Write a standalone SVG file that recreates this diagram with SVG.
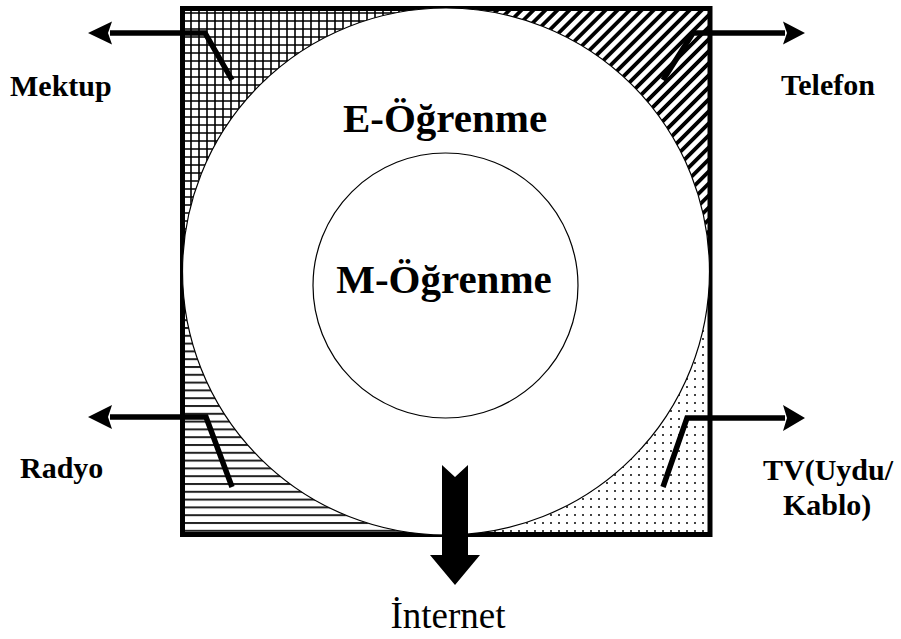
<svg xmlns="http://www.w3.org/2000/svg" width="901" height="639" viewBox="0 0 901 639">
  <style>
    .lbl { font-family: "Liberation Serif", "Times New Roman", serif; font-weight: bold; font-size: 30px; fill: #000; }
    .big { font-family: "Liberation Serif", "Times New Roman", serif; font-weight: bold; font-size: 41px; fill: #000; text-anchor: middle; }
    .net { font-family: "Liberation Serif", "Times New Roman", serif; font-size: 37px; fill: #000; text-anchor: middle; }
    .line { fill: none; stroke: #000; stroke-width: 5.5; stroke-linejoin: miter; }
    .head { fill: #000; }
  </style>
  <defs>
    <pattern id="grid" patternUnits="userSpaceOnUse" x="190" y="12" width="8" height="8">
      <path d="M0,1 H8 M1,0 V8" stroke="#000" stroke-width="1.6" fill="none"/>
    </pattern>
    <pattern id="diag" patternUnits="userSpaceOnUse" width="8.5" height="8.5" patternTransform="rotate(45)">
      <rect x="0" y="0" width="3.8" height="8.5" fill="#000"/>
    </pattern>
    <pattern id="hor" patternUnits="userSpaceOnUse" x="0" y="483" width="8" height="7.8">
      <rect x="0" y="0" width="8" height="2" fill="#222"/>
    </pattern>
    <pattern id="dots" patternUnits="userSpaceOnUse" x="646" y="482" width="8" height="8">
      <rect x="0" y="0" width="2" height="2" fill="#444"/>
    </pattern>
    <clipPath id="qTL"><rect x="0" y="0" width="446" height="271.5"/></clipPath>
    <clipPath id="qTR"><rect x="446" y="0" width="455" height="271.5"/></clipPath>
    <clipPath id="qBL"><rect x="0" y="271.5" width="446" height="370"/></clipPath>
    <clipPath id="qBR"><rect x="446" y="271.5" width="455" height="370"/></clipPath>
    <path id="ring" d="M182.5,8.5 H710 V534.5 H182.5 Z M446,8 A263.5,263.5 0 1,0 446,535 A263.5,263.5 0 1,0 446,8 Z" fill-rule="evenodd"/>
  </defs>

  <g id="frame">
    <use href="#ring" fill="url(#grid)" clip-path="url(#qTL)"/>
    <use href="#ring" fill="url(#diag)" clip-path="url(#qTR)"/>
    <use href="#ring" fill="url(#hor)" clip-path="url(#qBL)"/>
    <use href="#ring" fill="url(#dots)" clip-path="url(#qBR)"/>
    <rect x="182.5" y="8.5" width="527.5" height="526" fill="none" stroke="#000" stroke-width="5"/>
  </g>

  <g id="e-ogrenme">
    <circle cx="446" cy="271.5" r="263.5" fill="#fff" stroke="#000" stroke-width="1.2"/>
    <text class="big" x="445" y="132">E-Öğrenme</text>
  </g>

  <g id="m-ogrenme">
    <circle cx="445.5" cy="285.5" r="132.5" fill="#fff" stroke="#000" stroke-width="1.2"/>
    <text class="big" x="444" y="293">M-Öğrenme</text>
  </g>

  <g id="connectors">
    <polyline class="line" points="232,80 205,33 110,33"/>
    <path class="head" d="M88,33 L112,21.5 L108,33 L112,44.5 Z"/>
    <polyline class="line" points="663,80 693,33 785,33"/>
    <path class="head" d="M805,33 L783,21.5 L787,33 L783,44.5 Z"/>
    <polyline class="line" points="232,487 206,417 110,417"/>
    <path class="head" d="M88,417 L112,405 L108,417 L112,429 Z"/>
    <polyline class="line" points="663,487 687,418 785,418"/>
    <path class="head" d="M805,418 L783,405 L787,418 L783,431 Z"/>
    <path class="head" d="M442,465 L455,477 L468,465 L468,555 L480,555 L455,585 L430,555 L442,555 Z"/>
  </g>

  <g id="mektup"><text class="lbl" x="10" y="96">Mektup</text></g>
  <g id="telefon"><text class="lbl" x="781" y="95">Telefon</text></g>
  <g id="radyo"><text class="lbl" x="20" y="478">Radyo</text></g>
  <g id="tv"><text class="lbl" x="763" y="480">TV(Uydu/</text><text class="lbl" x="783" y="515">Kablo)</text></g>
  <g id="internet"><text class="net" x="448" y="628">İnternet</text></g>
</svg>
